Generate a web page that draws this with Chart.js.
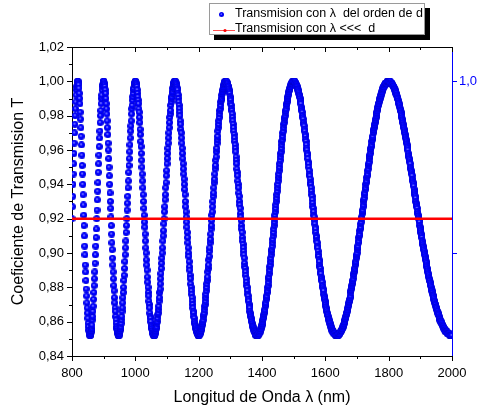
<!DOCTYPE html>
<html><head><meta charset="utf-8">
<script src="https://cdn.jsdelivr.net/npm/chart.js@4.4.1/dist/chart.umd.min.js"></script>
<style>html,body{margin:0;padding:0;background:#fff;}#wrap{width:477px;height:411px;}</style>
</head><body><div id="wrap"><canvas id="c" width="477" height="411"></canvas></div>
<script>
// Longitud de onda (nm): first value and spacing of the sampled series
const lambdaInicio = 800;
const lambdaPaso = 1;
// Transmision con lambda del orden de d (one value per nm, 800..2000)
const transmisionOrdenD = [
.920,.927,.933,.940,.946,.952,.958,.964,.970,.975,
.980,.984,.988,.992,.995,.997,.998,1,1,1,
.999,.998,.996,.993,.990,.987,.982,.978,.973,.968,
.963,.957,.951,.946,.940,.934,.928,.922,.916,.910,
.904,.899,.893,.889,.884,.879,.875,.871,.868,.865,
.862,.859,.857,.855,.854,.853,.852,.852,.852,.853,
.854,.855,.856,.858,.861,.863,.866,.869,.873,.877,
.881,.885,.889,.894,.899,.904,.909,.914,.920,.925,
.931,.936,.941,.947,.952,.957,.962,.967,.971,.976,
.980,.983,.987,.990,.992,.995,.997,.998,.999,1,
1,1,.999,.998,.997,.995,.993,.990,.987,.984,
.981,.977,.973,.969,.964,.960,.955,.950,.945,.940,
.935,.930,.926,.921,.916,.911,.906,.902,.897,.893,
.889,.885,.881,.878,.874,.871,.868,.866,.863,.861,
.859,.857,.856,.855,.854,.853,.852,.852,.852,.852,
.853,.854,.855,.856,.857,.859,.861,.863,.866,.868,
.871,.874,.877,.880,.884,.887,.891,.895,.899,.903,
.907,.912,.916,.920,.925,.929,.933,.938,.942,.947,
.951,.955,.959,.963,.967,.971,.974,.977,.981,.984,
.986,.989,.991,.993,.995,.996,.998,.999,.999,1,
1,1,.999,.999,.998,.997,.995,.993,.991,.989,
.987,.984,.982,.979,.976,.972,.969,.965,.962,.958,
.954,.950,.946,.942,.938,.934,.930,.926,.922,.918,
.915,.911,.907,.903,.900,.896,.893,.890,.886,.883,
.880,.877,.875,.872,.870,.868,.865,.863,.862,.860,
.858,.857,.856,.855,.854,.853,.853,.852,.852,.852,
.852,.852,.853,.853,.854,.855,.856,.857,.859,.860,
.862,.864,.865,.867,.869,.872,.874,.877,.879,.882,
.885,.888,.891,.894,.897,.900,.903,.907,.910,.913,
.917,.920,.924,.927,.931,.934,.938,.941,.945,.948,
.952,.955,.958,.961,.964,.967,.970,.973,.976,.979,
.981,.983,.986,.988,.990,.991,.993,.994,.996,.997,
.998,.999,.999,1,1,1,1,1,.999,.999,
.998,.997,.996,.995,.993,.992,.990,.988,.986,.984,
.982,.980,.977,.975,.972,.970,.967,.964,.961,.958,
.955,.952,.949,.946,.943,.940,.937,.934,.930,.927,
.924,.921,.918,.915,.912,.909,.906,.903,.900,.898,
.895,.892,.890,.887,.885,.882,.880,.878,.876,.874,
.872,.870,.868,.866,.865,.863,.862,.860,.859,.858,
.857,.856,.855,.855,.854,.853,.853,.853,.852,.852,
.852,.852,.852,.853,.853,.853,.854,.854,.855,.856,
.857,.858,.859,.860,.861,.863,.864,.865,.867,.869,
.870,.872,.874,.876,.878,.880,.882,.884,.886,.889,
.891,.893,.896,.898,.901,.903,.906,.908,.911,.914,
.916,.919,.922,.924,.927,.930,.933,.935,.938,.941,
.943,.946,.949,.951,.954,.956,.959,.961,.964,.966,
.968,.971,.973,.975,.977,.979,.981,.983,.984,.986,
.988,.989,.990,.992,.993,.994,.995,.996,.997,.998,
.998,.999,.999,1,1,1,1,1,1,.999,
.999,.999,.998,.997,.997,.996,.995,.994,.993,.991,
.990,.989,.987,.986,.984,.983,.981,.979,.977,.975,
.973,.971,.969,.967,.965,.963,.961,.959,.956,.954,
.952,.949,.947,.945,.942,.940,.938,.935,.933,.930,
.928,.926,.923,.921,.919,.916,.914,.912,.909,.907,
.905,.903,.901,.899,.897,.894,.892,.891,.889,.887,
.885,.883,.881,.880,.878,.876,.875,.873,.872,.870,
.869,.868,.866,.865,.864,.863,.862,.861,.860,.859,
.858,.857,.857,.856,.855,.855,.854,.854,.853,.853,
.853,.852,.852,.852,.852,.852,.852,.852,.852,.853,
.853,.853,.854,.854,.854,.855,.856,.856,.857,.858,
.858,.859,.860,.861,.862,.863,.864,.865,.866,.867,
.869,.870,.871,.873,.874,.875,.877,.878,.880,.881,
.883,.885,.886,.888,.890,.892,.893,.895,.897,.899,
.901,.902,.904,.906,.908,.910,.912,.914,.916,.918,
.920,.922,.924,.926,.928,.930,.932,.934,.936,.938,
.940,.942,.944,.946,.948,.950,.952,.954,.956,.958,
.959,.961,.963,.965,.966,.968,.970,.971,.973,.975,
.976,.978,.979,.980,.982,.983,.984,.986,.987,.988,
.989,.990,.991,.992,.993,.994,.995,.995,.996,.997,
.997,.998,.998,.999,.999,.999,1,1,1,1,
1,1,1,1,1,.999,.999,.999,.998,.998,
.997,.997,.996,.995,.995,.994,.993,.992,.992,.991,
.990,.989,.988,.987,.985,.984,.983,.982,.980,.979,
.978,.976,.975,.974,.972,.971,.969,.968,.966,.965,
.963,.961,.960,.958,.957,.955,.953,.952,.950,.948,
.946,.945,.943,.941,.940,.938,.936,.934,.933,.931,
.929,.927,.926,.924,.922,.921,.919,.917,.915,.914,
.912,.910,.909,.907,.906,.904,.903,.901,.899,.898,
.896,.895,.893,.892,.891,.889,.888,.886,.885,.884,
.883,.881,.880,.879,.878,.876,.875,.874,.873,.872,
.871,.870,.869,.868,.867,.866,.865,.864,.864,.863,
.862,.861,.861,.860,.859,.859,.858,.857,.857,.856,
.856,.855,.855,.855,.854,.854,.854,.853,.853,.853,
.853,.853,.852,.852,.852,.852,.852,.852,.852,.852,
.852,.852,.853,.853,.853,.853,.853,.854,.854,.854,
.855,.855,.855,.856,.856,.857,.857,.858,.858,.859,
.860,.860,.861,.862,.862,.863,.864,.865,.865,.866,
.867,.868,.869,.870,.871,.872,.872,.873,.874,.875,
.877,.878,.879,.880,.881,.882,.883,.884,.885,.887,
.888,.889,.890,.891,.893,.894,.895,.897,.898,.899,
.900,.902,.903,.904,.906,.907,.909,.910,.911,.913,
.914,.915,.917,.918,.920,.921,.923,.924,.925,.927,
.928,.930,.931,.932,.934,.935,.937,.938,.940,.941,
.942,.944,.945,.946,.948,.949,.951,.952,.953,.955,
.956,.957,.958,.960,.961,.962,.963,.965,.966,.967,
.968,.970,.971,.972,.973,.974,.975,.976,.977,.978,
.979,.980,.981,.982,.983,.984,.985,.986,.987,.987,
.988,.989,.990,.990,.991,.992,.992,.993,.994,.994,
.995,.995,.996,.996,.997,.997,.997,.998,.998,.998,
.999,.999,.999,.999,.999,1,1,1,1,1,
1,1,1,1,1,1,.999,.999,.999,.999,
.999,.998,.998,.998,.997,.997,.997,.996,.996,.995,
.995,.994,.994,.993,.993,.992,.992,.991,.990,.990,
.989,.988,.987,.987,.986,.985,.984,.983,.983,.982,
.981,.980,.979,.978,.977,.976,.975,.974,.973,.972,
.971,.970,.969,.968,.967,.966,.965,.964,.963,.962,
.961,.960,.958,.957,.956,.955,.954,.953,.952,.950,
.949,.948,.947,.946,.945,.943,.942,.941,.940,.939,
.937,.936,.935,.934,.933,.932,.930,.929,.928,.927,
.926,.924,.923,.922,.921,.920,.919,.918,.916,.915,
.914,.913,.912,.911,.910,.909,.907,.906,.905,.904,
.903,.902,.901,.900,.899,.898,.897,.896,.895,.894,
.893,.892,.891,.890,.889,.888,.887,.886,.885,.884,
.884,.883,.882,.881,.880,.879,.878,.878,.877,.876,
.875,.875,.874,.873,.872,.872,.871,.870,.870,.869,
.868,.868,.867,.866,.866,.865,.865,.864,.864,.863,
.862,.862,.861,.861,.860,.860,.860,.859,.859,.858,
.858,.858,.857,.857,.856,.856,.856,.855,.855,.855,
.855,.854,.854,.854,.854,.854,.853,.853,.853,.853,
.853,.853,.853,.852,.852,.852,.852,.852,.852,.852,
.852
];
// Transmision con lambda <<< d (constant level)
const lineaLambda = [800, 2000];
const lineaT = [0.92, 0.92];
// Axis ticks
const xTicksMayores = [800, 1000, 1200, 1400, 1600, 1800, 2000];
const xTicksMenores = [900, 1100, 1300, 1500, 1700, 1900];
const yTicksMayores = [0.84, 0.86, 0.88, 0.90, 0.92, 0.94, 0.96, 0.98, 1.00, 1.02];
const yTicksMenores = [0.85, 0.87, 0.89, 0.91, 0.93, 0.95, 0.97, 0.99, 1.01];
const yDerechaTicks = [0.9, 1.0];
const yDerechaEtiquetas = ['', '1,0'];
const nombresSeries = ['Transmision con \u03bb  del orden de d', 'Transmision con \u03bb <<<  d'];
const tituloX = 'Longitud de Onda \u03bb (nm)';
const tituloY = 'Coeficiente de Transmision T';

const FUENTE = '"Liberation Sans", Arial, Helvetica, sans-serif';
Chart.defaults.font.family = FUENTE;
Chart.defaults.color = '#000';

function esfera(d) {
  const c = document.createElement('canvas');
  c.width = d; c.height = d;
  const g = c.getContext('2d');
  const r = d / 2;
  const gr = g.createRadialGradient(r * 0.85, r * 0.8, 0, r, r, r);
  gr.addColorStop(0, '#c4c4ff');
  gr.addColorStop(0.22, '#5050ff');
  gr.addColorStop(0.45, '#0000ff');
  gr.addColorStop(0.85, '#0000f0');
  gr.addColorStop(1, '#0000cc');
  g.fillStyle = gr;
  g.beginPath(); g.arc(r, r, r, 0, Math.PI * 2); g.fill();
  return c;
}
const bola = esfera(7);
const bolaLeyenda = esfera(5);

const puntosOrdenD = transmisionOrdenD.map((t, i) => ({x: lambdaInicio + i * lambdaPaso, y: t}));
const puntosLinea = lineaLambda.map((l, i) => ({x: l, y: lineaT[i]}));

const marcoPlugin = {
  id: 'marco',
  afterDraw(chart) {
    const ctx = chart.ctx, a = chart.chartArea, x = chart.scales.x, y = chart.scales.y, y2 = chart.scales.y2;
    ctx.save();
    ctx.lineWidth = 1;
    ctx.strokeStyle = '#000';
    ctx.beginPath();
    ctx.moveTo(a.left, Math.round(a.top) + 0.5); ctx.lineTo(a.right, Math.round(a.top) + 0.5);
    const xt = (vals, L) => vals.forEach(v => {
      const px = Math.round(x.getPixelForValue(v)) + 0.5;
      ctx.moveTo(px, a.bottom); ctx.lineTo(px, a.bottom + L);
      ctx.moveTo(px, a.top); ctx.lineTo(px, a.top + L);
    });
    xt(xTicksMayores, 5); xt(xTicksMenores, 3);
    const yt = (vals, L) => vals.forEach(v => {
      const py = Math.round(y.getPixelForValue(v)) + 0.5;
      ctx.moveTo(a.left, py); ctx.lineTo(a.left - L, py);
    });
    yt(yTicksMayores, 5); yt(yTicksMenores, 3);
    ctx.stroke();
    ctx.strokeStyle = '#0000ff';
    ctx.beginPath();
    yDerechaTicks.forEach(v => {
      const py = Math.round(y2.getPixelForValue(v)) + 0.5;
      ctx.moveTo(a.right, py); ctx.lineTo(a.right + 5, py);
    });
    ctx.stroke();

    // legend box with drop shadow
    const bx = 209, by = 3, bw = 216, bh = 32;
    ctx.fillStyle = '#000';
    ctx.fillRect(bx + 5, by + 5, bw, bh);
    ctx.fillStyle = '#fff';
    ctx.fillRect(bx, by, bw, bh);
    ctx.strokeStyle = '#9a9a9a';
    ctx.strokeRect(bx + 0.5, by + 0.5, bw - 1, bh - 1);
    ctx.drawImage(bolaLeyenda, 219, 12);
    ctx.strokeStyle = '#ff5050';
    ctx.beginPath(); ctx.moveTo(213, 30.5); ctx.lineTo(235, 30.5); ctx.stroke();
    ctx.fillStyle = '#ff0000';
    ctx.beginPath(); ctx.arc(225, 30.5, 1.6, 0, Math.PI * 2); ctx.fill();
    ctx.fillStyle = '#000';
    ctx.font = '12.5px ' + FUENTE;
    ctx.textBaseline = 'middle';
    ctx.textAlign = 'left';
    ctx.fillText(chart.data.datasets[0].label, 235, 14);
    ctx.fillText(chart.data.datasets[1].label, 235, 29);
    ctx.restore();
  }
};

new Chart(document.getElementById('c'), {
  type: 'scatter',
  data: {
    datasets: [
      {
        label: nombresSeries[0],
        data: puntosOrdenD,
        showLine: false,
        pointStyle: bola,
        pointRadius: 3.5,
        pointHoverRadius: 3.5,
        order: 1
      },
      {
        label: nombresSeries[1],
        data: puntosLinea,
        showLine: true,
        borderColor: '#ff0000',
        borderWidth: 2.5,
        pointRadius: 0,
        order: 0
      }
    ]
  },
  options: {
    responsive: false,
    animation: false,
    devicePixelRatio: 1,
    layout: {padding: {top: 47, left: 0, right: 0, bottom: 0}},
    plugins: {legend: {display: false}, tooltip: {enabled: false}},
    scales: {
      x: {
        type: 'linear', position: 'bottom', min: 800, max: 2000,
        grid: {display: false, drawTicks: false},
        border: {display: true, color: '#000', width: 1},
        afterBuildTicks: s => { s.ticks = xTicksMayores.map(v => ({value: v})); },
        afterFit: s => { s.height = 55; },
        ticks: {font: {size: 13}, color: '#000', padding: 10, maxRotation: 0, autoSkip: false,
                callback: v => String(v)},
        title: {display: true, text: tituloX, font: {size: 16}, color: '#000', padding: {top: 2, bottom: 4}}
      },
      y: {
        type: 'linear', position: 'left', min: 0.84, max: 1.02,
        grid: {display: false, drawTicks: false},
        border: {display: true, color: '#000', width: 1},
        afterBuildTicks: s => { s.ticks = yTicksMayores.map(v => ({value: v})); },
        afterFit: s => { s.width = 72; },
        ticks: {font: {size: 13}, color: '#000', padding: 8, autoSkip: false,
                callback: v => Number(v).toFixed(2).replace('.', ',')},
        title: {display: true, text: tituloY, font: {size: 16}, color: '#000', padding: {top: 9, bottom: 0}}
      },
      y2: {
        type: 'linear', position: 'right', min: 0.84, max: 1.02,
        grid: {display: false, drawTicks: false},
        border: {display: true, color: '#0000ff', width: 1},
        afterBuildTicks: s => { s.ticks = yDerechaTicks.map(v => ({value: v})); },
        afterFit: s => { s.width = 25; },
        ticks: {font: {size: 13}, color: '#0000ff', padding: 7, autoSkip: false,
                callback: (v, i) => yDerechaEtiquetas[i]}
      }
    }
  },
  plugins: [marcoPlugin]
});
</script>
</body></html>
